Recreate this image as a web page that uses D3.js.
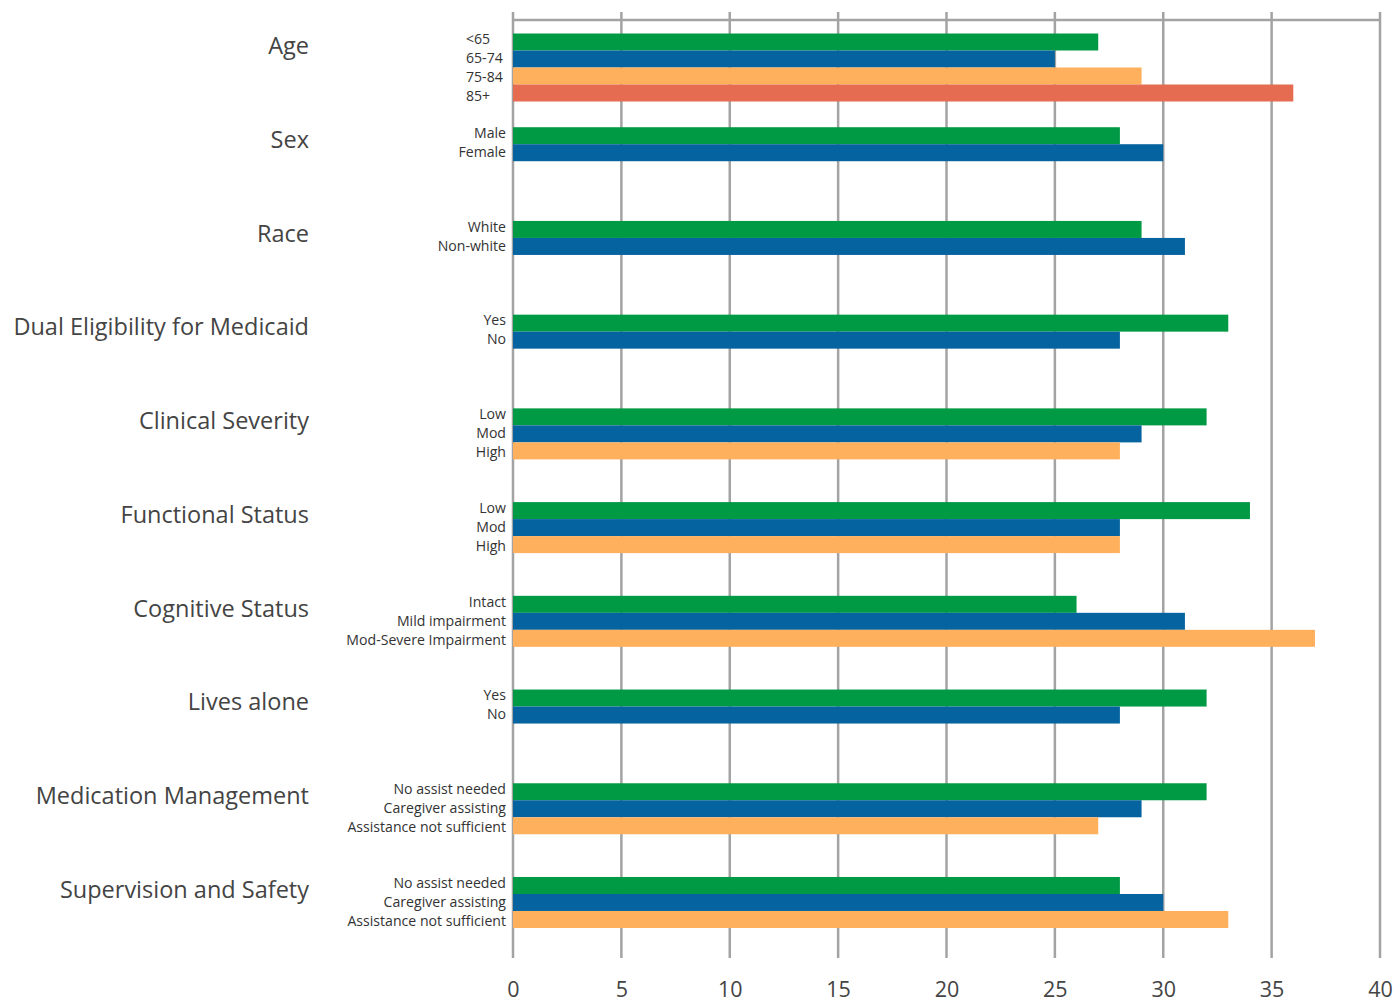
<!DOCTYPE html>
<html>
<head>
<meta charset="utf-8">
<script src="https://cdn.jsdelivr.net/npm/d3@7"></script>
<style>
  body { margin: 0; background: #fff; }
  svg { display: block; font-family: "Open Sans", sans-serif; }
</style>
</head>
<body>
<svg id="chart"></svg>
<script>
var groups = ['Age', 'Sex', 'Race', 'Dual Eligibility for Medicaid', 'Clinical Severity',
  'Functional Status', 'Cognitive Status', 'Lives alone', 'Medication Management', 'Supervision and Safety'];

var subLabels = [
  ['<65', '65-74', '75-84', '85+'],
  ['Male', 'Female'],
  ['White', 'Non-white'],
  ['Yes', 'No'],
  ['Low', 'Mod', 'High'],
  ['Low', 'Mod', 'High'],
  ['Intact', 'Mild impairment', 'Mod-Severe Impairment'],
  ['Yes', 'No'],
  ['No assist needed', 'Caregiver assisting', 'Assistance not sufficient'],
  ['No assist needed', 'Caregiver assisting', 'Assistance not sufficient']
];

var values = [
  [27, 25, 29, 36],
  [28, 30],
  [29, 31],
  [33, 28],
  [32, 29, 28],
  [34, 28, 28],
  [26, 31, 37],
  [32, 28],
  [32, 29, 27],
  [28, 30, 33]
];

var xTicks = [0, 5, 10, 15, 20, 25, 30, 35, 40];
var colors = ['#009a44', '#0563a0', '#ffb05c', '#e56b51'];
// the age labels sit left aligned in the original
var leftAligned = ['Age'];

var width = 1399, height = 1005;
var svg = d3.select('#chart').attr('width', width).attr('height', height);

var x = d3.scaleLinear().domain([0, 40]).range([513, 1380]);
var y = d3.scaleBand().domain(groups).range([20, 957.2]);
// four bar slots inside each group band
var slot = d3.scaleBand().domain([0, 1, 2, 3]).range([13.5, 13.5 + 68]);
// sub labels are spaced a little wider than the bars
var labelY = d3.scaleLinear().domain([0, 1]).range([19.3, 38.3]);

// gridlines
svg.append('g')
  .selectAll('line')
  .data(xTicks)
  .enter().append('line')
  .attr('x1', function(d) { return x(d); })
  .attr('x2', function(d) { return x(d); })
  .attr('y1', 12)
  .attr('y2', 958)
  .attr('stroke', '#a3a3a3')
  .attr('stroke-width', 2.5);

svg.append('line')
  .attr('x1', x(0)).attr('x2', x(40))
  .attr('y1', 20).attr('y2', 20)
  .attr('stroke', '#a3a3a3')
  .attr('stroke-width', 2.5);

// rows
var rows = [];
groups.forEach(function(g, i) {
  values[i].forEach(function(v, j) {
    rows.push({ group: g, index: j, value: v, label: subLabels[i][j] });
  });
});

svg.append('g')
  .selectAll('rect')
  .data(rows)
  .enter().append('rect')
  .attr('x', x(0))
  .attr('y', function(d) { return y(d.group) + slot(d.index); })
  .attr('width', function(d) { return x(d.value) - x(0); })
  .attr('height', slot.bandwidth())
  .attr('fill', function(d) { return colors[d.index]; });

svg.append('g')
  .selectAll('text')
  .data(rows)
  .enter().append('text')
  .attr('x', function(d) { return leftAligned.indexOf(d.group) >= 0 ? 466 : 506; })
  .attr('y', function(d) { return y(d.group) + labelY(d.index); })
  .attr('dy', '0.35em')
  .attr('text-anchor', function(d) { return leftAligned.indexOf(d.group) >= 0 ? 'start' : 'end'; })
  .attr('font-size', 14.1)
  .attr('fill', '#333')
  .text(function(d) { return d.label; });

// group labels
svg.append('g')
  .selectAll('text')
  .data(groups)
  .enter().append('text')
  .attr('x', 309)
  .attr('y', function(d) { return y(d) + 26; })
  .attr('dy', '0.35em')
  .attr('text-anchor', 'end')
  .attr('font-size', 23.5)
  .attr('fill', '#444')
  .text(function(d) { return d; });

// x axis labels
var xAxis = d3.axisBottom(x).tickValues(xTicks).tickSize(0).tickPadding(0);
var ax = svg.append('g')
  .attr('transform', 'translate(0,982)')
  .call(xAxis);
ax.select('.domain').remove();
ax.selectAll('text')
  .attr('font-family', '"Open Sans", sans-serif')
  .attr('font-size', 21.5)
  .attr('fill', '#444');
</script>
</body>
</html>
